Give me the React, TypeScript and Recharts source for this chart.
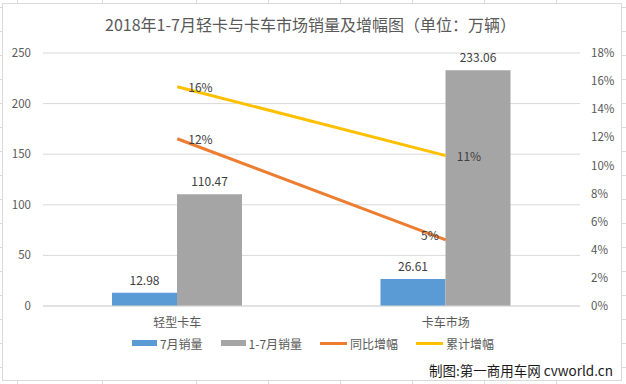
import React from 'react';
import { ComposedChart, Bar, Line, XAxis, YAxis, CartesianGrid, Legend, LabelList } from 'recharts';

const categories = ['轻型卡车', '卡车市场'];
const julySales = [12.98, 26.61];
const ytdSales = [110.47, 233.06];
const yoyGrowth = [0.119, 0.047];
const ytdGrowth = [0.156, 0.107];
const leftTicks = [0, 50, 100, 150, 200, 250];
const rightTicks = [0, 0.02, 0.04, 0.06, 0.08, 0.1, 0.12, 0.14, 0.16, 0.18];

const data = categories.map((c, i) => ({
  name: c,
  july: julySales[i],
  ytd: ytdSales[i],
  yoy: yoyGrowth[i],
  ytdg: ytdGrowth[i],
}));

const FONT = '"Noto Sans CJK SC", "Noto Sans", sans-serif';
const BLUE = '#5B9BD5';
const GRAY = '#A5A5A5';
const ORANGE = '#ED7D31';
const YELLOW = '#FFC000';
const TXT = '#595959';
const GRID = '#D9D9D9';

const pct = (v: number) => `${Math.round(v * 100)}%`;

const sheetCols = [17, 102, 196, 268, 340, 412, 484, 556];
const sheetRows = Array.from({ length: 16 }, (_, i) => 7 + i * 24);

const legendItems = [
  { label: '7月销量', color: BLUE, kind: 'bar' },
  { label: '1-7月销量', color: GRAY, kind: 'bar' },
  { label: '同比增幅', color: ORANGE, kind: 'line' },
  { label: '累计增幅', color: YELLOW, kind: 'line' },
];

const renderLegend = () => (
  <div style={{ height: 20, display: 'flex', justifyContent: 'center', alignItems: 'center', fontFamily: FONT, fontSize: 12, color: TXT }}>
    {legendItems.map((it, i) => (
      <div key={i} style={{ display: 'flex', alignItems: 'center', marginLeft: i === 0 ? 0 : 18 }}>
        <div style={{ width: it.kind === 'bar' ? 25 : 27, height: it.kind === 'bar' ? 6 : 3, background: it.color, marginRight: 3 }} />
        <span>{it.label}</span>
      </div>
    ))}
  </div>
);

const makeLineLabel = (leftIdx: number[]) => (props: any) => {
  const { x, y, value, index } = props;
  const left = leftIdx.includes(index);
  return (
    <text
      x={left ? x - 7 : x + 11}
      y={left ? y - 5 : y}
      textAnchor={left ? 'end' : 'start'}
      dominantBaseline="central"
      fill="#404040"
      fontSize={12}
      fontFamily={FONT}
    >
      {pct(value)}
    </text>
  );
};

export default function App() {
  return (
    <div style={{ position: 'absolute', left: 0, top: 0, width: 626, height: 384, background: '#fff', overflow: 'hidden' }}>
      {sheetCols.map((x) => (
        <React.Fragment key={'c' + x}>
          <div style={{ position: 'absolute', left: x, top: 0, width: 1, height: 3, background: GRID }} />
          <div style={{ position: 'absolute', left: x, top: 381, width: 1, height: 3, background: GRID }} />
        </React.Fragment>
      ))}
      {sheetRows.map((y) => (
        <React.Fragment key={'r' + y}>
          <div style={{ position: 'absolute', left: 0, top: y, width: 2, height: 1, background: GRID }} />
          <div style={{ position: 'absolute', left: 622, top: y, width: 4, height: 1, background: GRID }} />
        </React.Fragment>
      ))}
      <div style={{ position: 'absolute', left: 2, top: 3, width: 620, height: 378, border: `1px solid ${GRID}`, boxSizing: 'border-box' }} />
      <div style={{ position: 'absolute', left: 0, top: 13, width: 621, textAlign: 'center', fontFamily: FONT, fontSize: 16, color: TXT, lineHeight: '22px', whiteSpace: 'nowrap' }}>
        2018年1-7月轻卡与卡车市场销量及增幅图（单位：万辆）
      </div>
      <div style={{ position: 'absolute', left: 0, top: 0 }}>
        <ComposedChart
          width={626}
          height={384}
          data={data}
          margin={{ top: 53, right: 6, left: 6, bottom: 31 }}
          barGap={0}
          style={{ fontFamily: FONT }}
        >
          <CartesianGrid vertical={false} stroke={GRID} yAxisId="left" />
          <XAxis
            dataKey="name"
            xAxisId={0}
            height={27}
            tickLine={false}
            axisLine={{ stroke: GRID }}
            tickMargin={6}
            tick={{ fill: TXT, fontSize: 12 }}
          />
          <YAxis
            yAxisId="left"
            orientation="left"
            width={37}
            domain={[0, 250]}
            ticks={leftTicks}
            axisLine={false}
            tickLine={false}
            tickMargin={6}
            tick={{ fill: TXT, fontSize: 11.5 }}
          />
          <YAxis
            yAxisId="right"
            orientation="right"
            width={40}
            domain={[0, 0.18]}
            ticks={rightTicks}
            tickFormatter={pct}
            axisLine={false}
            tickLine={false}
            tickMargin={5}
            tick={{ fill: TXT, fontSize: 11.5, textAnchor: 'start' }}
          />
          <Legend verticalAlign="bottom" content={renderLegend} />
          <Bar dataKey="july" yAxisId="left" fill={BLUE} barSize={65} isAnimationActive={false} name="7月销量">
            <LabelList dataKey="july" position="top" offset={8} fill="#404040" fontSize={12} />
          </Bar>
          <Bar dataKey="ytd" yAxisId="left" fill={GRAY} barSize={65} isAnimationActive={false} name="1-7月销量">
            <LabelList dataKey="ytd" position="top" offset={8} fill="#404040" fontSize={12} />
          </Bar>
          <Line dataKey="yoy" yAxisId="right" stroke={ORANGE} strokeWidth={3} dot={false} activeDot={false} isAnimationActive={false} name="同比增幅">
            <LabelList dataKey="yoy" content={makeLineLabel([1])} />
          </Line>
          <Line dataKey="ytdg" yAxisId="right" stroke={YELLOW} strokeWidth={3} dot={false} activeDot={false} isAnimationActive={false} name="累计增幅">
            <LabelList dataKey="ytdg" content={makeLineLabel([])} />
          </Line>
        </ComposedChart>
      </div>
      <div style={{ position: 'absolute', left: 429, top: 360, fontFamily: FONT, fontSize: 13.5, color: '#1a1a1a', whiteSpace: 'nowrap', lineHeight: '20px' }}>
        制图:第一商用车网 cvworld.cn
      </div>
    </div>
  );
}
